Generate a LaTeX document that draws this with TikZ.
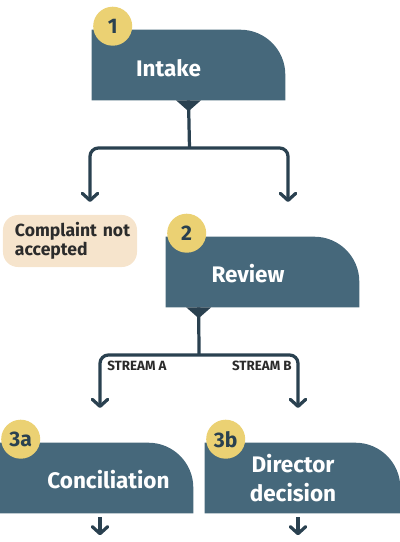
\documentclass[tikz,border=0pt]{standalone}
\usepackage{fontspec}
\setmainfont{Fira Sans}
\usetikzlibrary{arrows.meta,positioning}

\definecolor{stagefill}{HTML}{46687B}
\definecolor{linedark}{HTML}{2A4150}
\definecolor{badgefill}{HTML}{EBD173}
\definecolor{rejectfill}{HTML}{F6E4CC}
\definecolor{inkdark}{HTML}{2B2B2B}

\begin{document}
\begin{tikzpicture}[x=0.025cm,y=0.025cm]
	\useasboundingbox (0,0) rectangle (400,542);
	% Define the styles
	\tikzstyle{stage} = [inner sep=0pt, minimum width=4.825cm, minimum height=1.75cm];
	\tikzstyle{stagetext} = [text=white, align=center, font=\bfseries\fontsize{16}{20.5}\selectfont];
	\tikzstyle{badge} = [circle, fill=badgefill, minimum size=0.975cm, inner sep=0pt, text=linedark, font=\bfseries\fontsize{15}{15}\selectfont];
	\tikzstyle{reject} = [fill=rejectfill, rounded corners=0.375cm, minimum height=1.3cm, text width=2.75cm, inner xsep=0.3cm, align=left, text=inkdark, font=\bfseries\fontsize{12.5}{13.5}\selectfont];
	\tikzstyle{stream} = [inner sep=0pt, text=inkdark, font=\bfseries\fontsize{9.5}{10}\selectfont];
	\tikzstyle{flow} = [draw=linedark, line width=2.3pt, >={Straight Barb[length=5pt,width=11pt,round]}];
	
	% Stage boxes
	\node[stage] (intake) at (188.5,477) {};
	\node[stage] (review) at (262.5,270) {};
	\node[stage] (concil) at (96.5,64) {};
	\node[stage, minimum width=4.875cm] (director) at (302.5,64) {};
	
	\foreach \n in {intake, review, concil, director}
	\fill[stagefill] (\n.south west) -- (\n.north west) -- ([xshift=-1.125cm]\n.north east)
		arc[start angle=90, end angle=0, radius=1.125cm] -- (\n.south east) -- cycle;
	
	\node[stagetext] (intake-t) at ([shift={(-20,-3)}]intake.center) {Intake};
	\node[stagetext] (review-t) at ([shift={(-14.5,-2)}]review.center) {Review};
	\node[stagetext] (concil-t) at ([shift={(12,-2)}]concil.center) {Conciliation};
	\node[stagetext] (director-t) at ([shift={(-9.5,0)}]director.center) {Director\\decision};
	
	% Step numbers
	\foreach \n/\t in {intake/1, review/2, concil/3a, director/3b}
	\node[badge] (\n-b) at ([shift={(21,3.5)}]\n.north west) {\t};
	
	\node[reject] (nacc) at (70,301) {Complaint~not\\accepted};
	
	% Intake split
	\coordinate (intake-out) at (intake.south);
	\coordinate (fork1) at (189.5,394);
	\coordinate (nacc-in) at (90,340);
	\coordinate (review-in) at (288,340);
	\draw[flow] (intake-out) -- (fork1);
	\draw[flow, rounded corners=6pt, <->] (nacc-in) |- (fork1) -| (review-in);
	\fill[linedark] (intake-out) ++(-12.5,0) -- ++(25,0) -- ++(-12.5,-11) -- cycle;
	
	% Review split
	\coordinate (review-out) at ([shift={(33,0)}]review.south west);
	\coordinate (fork2) at (199,187);
	\coordinate (concil-in) at (100,134);
	\coordinate (director-in) at (298,134);
	\draw[flow] (review-out) -- (fork2);
	\draw[flow, rounded corners=6pt, <->] (concil-in) |- (fork2) -| (director-in);
	\fill[linedark] (review-out) ++(-12.5,0) -- ++(25,0) -- ++(-12.5,-11) -- cycle;
	\node[stream, anchor=west] (stream-a) at (107,176) {STREAM A};
	\node[stream, anchor=east] (stream-b) at (292,176) {STREAM B};
	
	% Onward arrows
	\draw[flow, ->] ([shift={(3.5,-4)}]concil.south) -- ++(0,-18);
	\draw[flow, ->] ([shift={(-4.5,-4)}]director.south) -- ++(0,-18);
\end{tikzpicture}
\end{document}
